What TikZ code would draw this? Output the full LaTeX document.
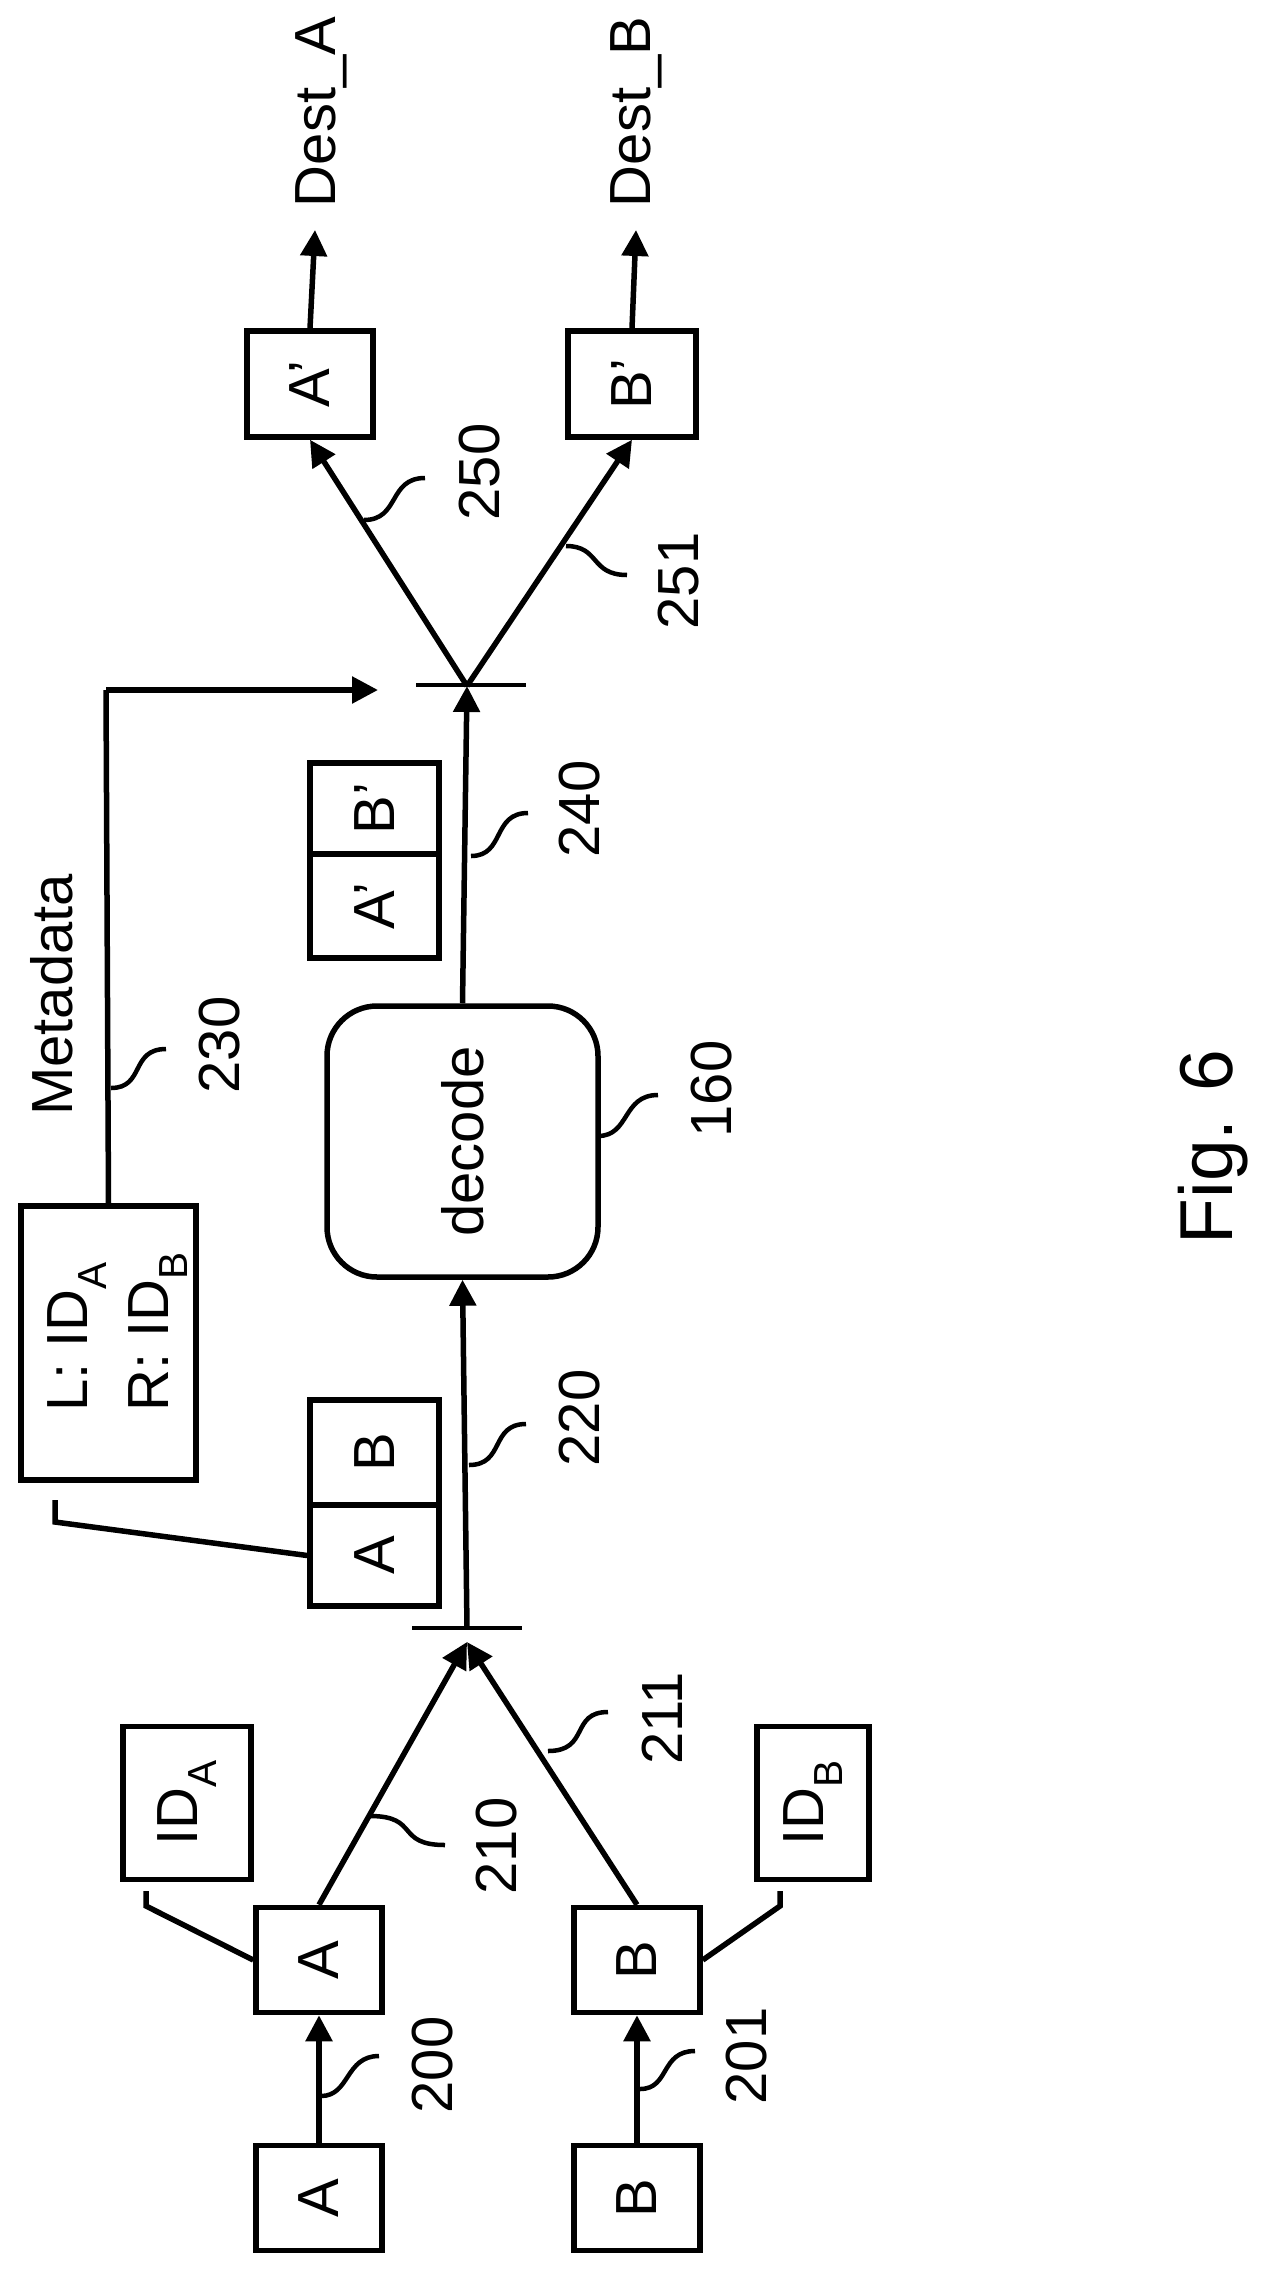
\documentclass[tikz,border=0pt]{standalone}
\usepackage{fontspec}
\setmainfont{Liberation Sans}
\usetikzlibrary{arrows.meta}
\begin{document}
\begin{tikzpicture}[x=1pt,y=-1pt,
  every node/.style={font=\fontsize{58}{64}\selectfont, inner sep=0pt},
  box/.style={draw, line width=5.5pt, minimum width=126pt, minimum height=105pt},
  ln/.style={line width=5.5pt},
  arr/.style={ln, -{Triangle[length=26pt,width=26pt]}},
  sq/.style={line width=4.5pt},
  lbl/.style={rotate=90}]
\useasboundingbox (0,0) rectangle (1268,2272);
% boxes
\node[box] (a0) at (319,2198) {\rotatebox{90}{A}};
\node[box] (b0) at (637,2198) {\rotatebox{90}{B}};
\node[box] (a1) at (319,1960) {\rotatebox{90}{A}};
\node[box] (b1) at (637,1960) {\rotatebox{90}{B}};
\node[box, minimum width=128pt, minimum height=153pt] (ida) at (187,1803) {\rotatebox{90}{ID\textsubscript{A}}};
\node[box, minimum width=112pt, minimum height=153pt] (idb) at (813,1803) {\rotatebox{90}{ID\textsubscript{B}}};
\node[box, minimum width=129pt, minimum height=101pt] (pa) at (374.5,1555.5) {\rotatebox{90}{A}};
\node[box, minimum width=129pt, minimum height=105pt] (pb) at (374.5,1452.5) {\rotatebox{90}{B}};
\node[box, minimum width=175pt, minimum height=274pt] (meta) at (108.5,1343) {};
\node[lbl, anchor=west] (l1) at (77,1412) {L: ID\textsubscript{A}};
\node[lbl, anchor=west] (l2) at (158,1412) {R: ID\textsubscript{B}};
\node[draw, ln, rounded corners=50pt, minimum width=271pt, minimum height=271pt] (dec) at (462.5,1141.5) {\rotatebox{90}{decode}};
\node[box, minimum width=129pt, minimum height=104pt] (qa) at (374.5,906) {\rotatebox{90}{A’}};
\node[box, minimum width=129pt, minimum height=91pt] (qb) at (374.5,808.5) {\rotatebox{90}{B’}};
\node[box, minimum width=126pt, minimum height=106pt] (oa) at (310,384) {\rotatebox{90}{A’}};
\node[box, minimum width=128pt, minimum height=106pt] (ob) at (632,384) {\rotatebox{90}{B’}};
\node[lbl] (da) at (321,112) {Dest\_A};
\node[lbl] (db) at (636,112) {Dest\_B};
\node[lbl] (md) at (52,995) {Metadata};
\node[lbl, font=\fontsize{75}{80}\selectfont] (fig) at (1213,1147) {Fig. 6};
% labels
\node[lbl] (t200) at (433,2065) {200};
\node[lbl] (t201) at (747,2056) {201};
\node[lbl] (t210) at (497,1846) {210};
\node[lbl] (t211) at (662,1718) {211};
\node[lbl] (t220) at (580,1418) {220};
\node[lbl] (t230) at (220,1045) {230};
\node[lbl] (t160) at (712,1089) {160};
\node[lbl] (t240) at (580,809) {240};
\node[lbl] (t250) at (480,472) {250};
\node[lbl] (t251) at (679,581) {251};
% coordinates
\coordinate (m1) at (467,1642);
\coordinate (m2) at (467,686);
\coordinate (mdend) at (378,690);
\coordinate (mdc) at (106,690);
\coordinate (ida1) at (146,1891);
\coordinate (ida2) at (146,1906);
\coordinate (idb1) at (780,1891);
\coordinate (idb2) at (780,1906);
\coordinate (pc1) at (55,1500);
\coordinate (pc2) at (55,1522);
% connectors
\draw[arr] (a0.north) -- (a1.south);
\draw[arr] (b0.north) -- (b1.south);
\draw[ln] (ida1) -- (ida2) -- (a1.west);
\draw[ln] (idb1) -- (idb2) -- (b1.east);
\draw[arr] (a1.north) -- (m1);
\draw[arr] (b1.north) -- (m1);
\draw[line width=4.5pt] (412,1628) -- (522,1628);
\draw[arr] (467,1628) -- (dec.south);
\draw[ln] (pc1) -- (pc2) -- (pa.west);
\draw[ln] (meta.north) -- (mdc);
\draw[arr] (mdc) -- (mdend);
\draw[arr] (dec.north) -- (m2);
\draw[line width=4.5pt] (416,685) -- (526,685);
\draw[arr] (m2) -- (oa.south);
\draw[arr] (m2) -- (ob.south);
\draw[arr] (oa.north) -- (315,230);
\draw[arr] (ob.north) -- (636,230);
% squiggles
\draw[sq] (321,2096) .. controls (350,2096) and (345,2056) .. (379,2056);
\draw[sq] (640,2089) .. controls (670,2089) and (660,2051) .. (695,2051);
\draw[sq] (370,1816) .. controls (420,1816) and (395,1845) .. (445,1845);
\draw[sq] (548,1751) .. controls (590,1751) and (570,1712) .. (608,1712);
\draw[sq] (469,1465) .. controls (505,1465) and (490,1424) .. (526,1424);
\draw[sq] (111,1088) .. controls (145,1088) and (130,1049) .. (166,1049);
\draw[sq] (598,1136) .. controls (630,1136) and (622,1095) .. (658,1095);
\draw[sq] (471,856) .. controls (505,856) and (492,813) .. (528,813);
\draw[sq] (364,520) .. controls (400,520) and (388,478) .. (425,478);
\draw[sq] (566,546) .. controls (600,546) and (590,575) .. (627,575);
\end{tikzpicture}
\end{document}
